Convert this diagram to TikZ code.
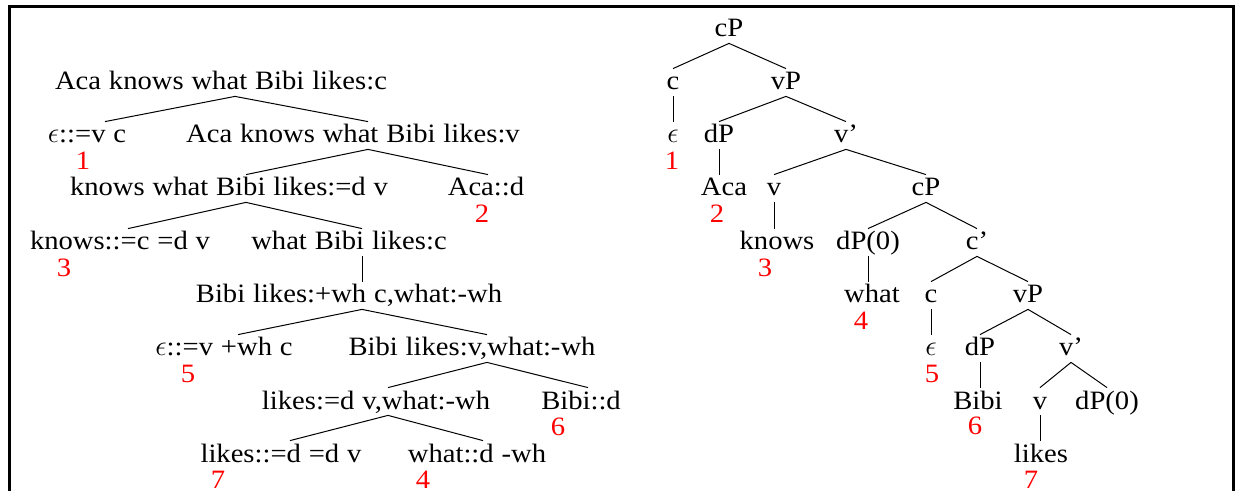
\documentclass[tikz,border=0pt]{standalone}
\usepackage{fontspec}
\setmainfont{Liberation Serif}[FakeStretch=1.08, WordSpace=1.1]
\usepackage{tikz}

\begin{document}
\begin{tikzpicture}[x=0.5pt, y=-0.5pt, font=\fontsize{13.25}{16}\selectfont,
		w/.style={inner sep=0pt, anchor=base, text height=10.5pt, text depth=3pt},
		num/.style={inner sep=0pt, anchor=base, text=red},
		tr/.style={line width=0.5pt}]
			\useasboundingbox (0,0) rectangle (1236,491);
			\draw[line width=1.5pt] (9,500) -- (9,7) -- (1233,7) -- (1233,500);

			% derivation tree
			\node[w] (l0) at (221,90) {Aca knows what Bibi likes:c};
			\node[w] (l1) at (87,143) {$\epsilon$::=v c};
			\node[w] (l2) at (353,143) {Aca knows what Bibi likes:v};
			\node[w] (l3) at (229,196) {knows what Bibi likes:=d v};
			\node[w] (l4) at (486,196) {Aca::d};
			\node[w] (l5) at (120,250) {knows::=c =d v};
			\node[w] (l6) at (349,250) {what Bibi likes:c};
			\node[w] (l7) at (349,303) {Bibi likes:+wh c,what:-wh};
			\node[w] (l8) at (224,356) {$\epsilon$::=v +wh c};
			\node[w] (l9) at (472,356) {Bibi likes:v,what:-wh};
			\node[w] (l10) at (376,409) {likes:=d v,what:-wh};
			\node[w] (l11) at (581,409) {Bibi::d};
			\node[w] (l12) at (281,462) {likes::=d =d v};
			\node[w] (l13) at (477,462) {what::d -wh};
			\foreach \a/\p/\b/\q in {l0/14/l1/18, l0/14/l2/15, l2/15/l3/17, l2/15/l4/2,
					l3/17/l5/8, l3/17/l6/13, l6/13/l7/13, l7/13/l8/14, l7/13/l9/15,
					l9/15/l10/12, l9/15/l11/7, l10/12/l12/9, l10/12/l13/6}
				\draw[tr] ([xshift=\p*0.5pt]\a.south) -- ([xshift=\q*0.5pt]\b.north);
			\node[num] (k1) at (83,170) {1};
			\node[num] (k2) at (482,223) {2};
			\node[num] (k3) at (64,277) {3};
			\node[num] (k4) at (423,488) {4};
			\node[num] (k5) at (188,383) {5};
			\node[num] (k6) at (558,436) {6};
			\node[num] (k7) at (218,488) {7};

			% derived tree
			\node[w] (r0) at (729,37) {cP};
			\node[w] (r1) at (673,90) {c};
			\node[w] (r2) at (673,143) {$\epsilon$};
			\node[w] (r3) at (786,90) {vP};
			\node[w] (r4) at (719,143) {dP};
			\node[w] (r5) at (724,196) {Aca};
			\node[w] (r6) at (846,143) {v'};
			\node[w] (r7) at (774,196) {v};
			\node[w] (r8) at (777,250) {knows};
			\node[w] (r9) at (926,196) {cP};
			\node[w] (r10) at (868,250) {dP(0)};
			\node[w] (r11) at (977,250) {c'};
			\node[w] (r12) at (872,303) {what};
			\node[w] (r13) at (931,303) {c};
			\node[w] (r14) at (1028,303) {vP};
			\node[w] (r15) at (931,356) {$\epsilon$};
			\node[w] (r16) at (980,356) {dP};
			\node[w] (r17) at (1071,356) {v'};
			\node[w] (r18) at (978,409) {Bibi};
			\node[w] (r19) at (1040,409) {v};
			\node[w] (r20) at (1107,409) {dP(0)};
			\node[w] (r21) at (1041,462) {likes};
			\foreach \a/\b in {r0/r1, r0/r3, r3/r4, r3/r6, r6/r7, r6/r9, r9/r10, r9/r11,
					r11/r13, r11/r14, r14/r16, r14/r17, r17/r19, r17/r20}
				\draw[tr] (\a.south) -- (\b.north);
			\foreach \a/\b in {r1/r2, r4/r5, r7/r8, r10/r12, r13/r15, r16/r18, r19/r21}
				\draw[tr] (\a.south) -- (\b.north -| \a.south);
			\node[num] (m1) at (672,170) {1};
			\node[num] (m2) at (717,223) {2};
			\node[num] (m3) at (765,277) {3};
			\node[num] (m4) at (861,330) {4};
			\node[num] (m5) at (932,383) {5};
			\node[num] (m6) at (975,435) {6};
			\node[num] (m7) at (1031,488) {7};
		\end{tikzpicture}
\end{document}
